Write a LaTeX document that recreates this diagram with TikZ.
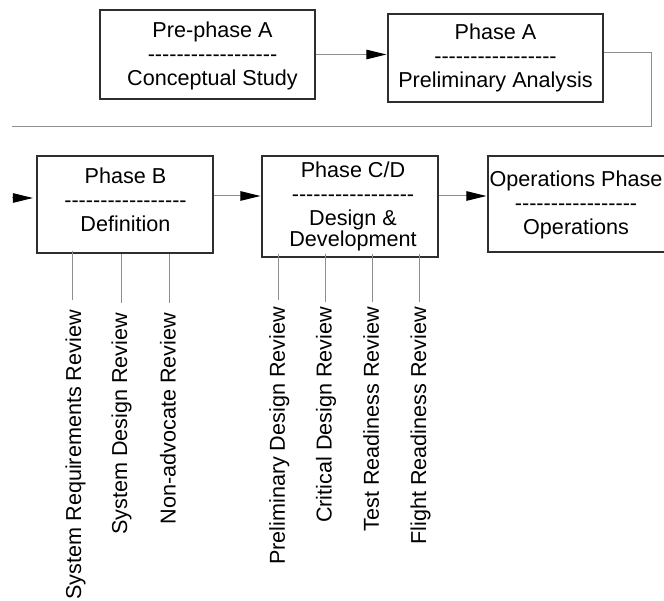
\documentclass[tikz,border=0pt]{standalone}
\usepackage{fontspec}
\setmainfont{Liberation Sans}[Ligatures=TeXOff]
\usetikzlibrary{arrows.meta}
\definecolor{boxc}{HTML}{2E2E2E}
\definecolor{linec}{HTML}{8E8E8E}
\newcommand\mystrut{\rule[-8pt]{0pt}{24pt}}
\begin{document}
\begin{tikzpicture}[x=1pt,y=-1pt,
  pbox/.style={draw=boxc,line width=1.2pt,inner sep=0pt},
  btext/.style={inner sep=0pt,align=center,font=\fontsize{21.6}{24}\selectfont},
  conn/.style={draw=linec,line width=1pt},
  arr/.style={conn,-{Triangle[length=20pt,width=9.5pt,color=black]},shorten >=1pt},
  revline/.style={draw=linec,line width=1pt},
  revtext/.style={rotate=90,anchor=east,inner sep=0pt,text height=16pt,text depth=5pt,font=\fontsize{21.6}{24}\selectfont}]
\useasboundingbox (0,0) rectangle (664,601);

% boxes
\node[pbox,minimum width=215pt,minimum height=89pt] (pre) at (207.5,54.5) {};
\node[pbox,minimum width=215pt,minimum height=88pt] (phA) at (495.5,58) {};
\node[pbox,minimum width=176pt,minimum height=97pt] (phB) at (125,204.5) {};
\node[pbox,minimum width=176pt,minimum height=101pt] (phCD) at (350,206.5) {};
\node[pbox,minimum width=178pt,minimum height=96pt] (ops) at (577,204) {};

% box texts
\node[btext] (preT) at (212.5,57.7) {\mystrut Pre-phase A\\\mystrut ------------------\\\mystrut Conceptual Study};
\node[btext] (phAT) at (495.5,59.2) {\mystrut Phase A\\\mystrut -----------------\\\mystrut Preliminary Analysis};
\node[btext] (phBT) at (125.5,204) {\mystrut Phase B\\\mystrut -----------------\\\mystrut Definition};
\node[btext] (phCDT) at (353,208.5) {\mystrut Phase C/D\\\mystrut -----------------\\\mystrut Design \&\\[-3pt]\mystrut Development};
\node[btext] (opsT) at (576,207) {\mystrut Operations Phase\\\mystrut -----------------\\\mystrut Operations};

% connectors
\coordinate (aTurn) at (651,53);
\coordinate (aLeft) at (12,127);
\coordinate (bIn) at (12,198);
\coordinate (rowB) at (0,196);
\draw[arr] (pre.east) -- (pre.east -| phA.west);
\draw[conn] (aTurn -| phA.east) -- (aTurn) |- (aLeft);
\draw[arr,shorten >=3.5pt] (bIn) -- (bIn -| phB.west);
\draw[arr] (rowB -| phB.east) -- (rowB -| phCD.west);
\draw[arr] (rowB -| phCD.east) -- (rowB -| ops.west);

% review lines
\coordinate (r1) at (72.3,300);
\coordinate (r2) at (121.2,303.3);
\coordinate (r3) at (169,303.3);
\coordinate (r4) at (278.3,300.5);
\coordinate (r5) at (325.7,301.7);
\coordinate (r6) at (372.7,301.7);
\coordinate (r7) at (419.8,301.7);
\draw[revline] ([yshift=3pt]r1 |- phB.south) -- (r1);
\draw[revline] (r2 |- phB.south) -- (r2);
\draw[revline] (r3 |- phB.south) -- (r3);
\draw[revline] ([yshift=4pt]r4 |- phCD.south) -- (r4);
\draw[revline] ([yshift=4pt]r5 |- phCD.south) -- (r5);
\draw[revline] ([yshift=4pt]r6 |- phCD.south) -- (r6);
\draw[revline] ([yshift=4pt]r7 |- phCD.south) -- (r7);

% review labels
\node[revtext] (srr) at (75.7,310) {System Requirements Review};
\node[revtext] (sdr) at (121.7,312.7) {System Design Review};
\node[revtext] (nar) at (170,312.7) {Non-advocate Review};
\node[revtext] (pdr) at (279.3,306.7) {Preliminary Design Review};
\node[revtext] (cdr) at (326,306.7) {Critical Design Review};
\node[revtext] (trr) at (373.3,306.7) {Test Readiness Review};
\node[revtext] (frr) at (420.7,306.7) {Flight Readiness Review};
\end{tikzpicture}
\end{document}
